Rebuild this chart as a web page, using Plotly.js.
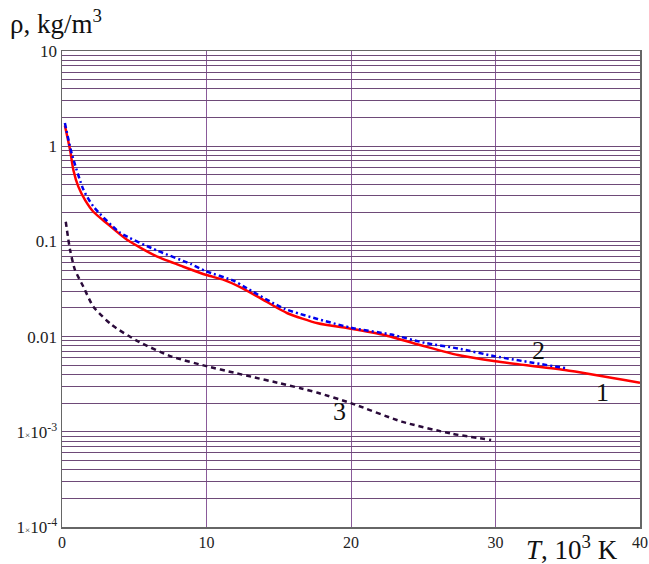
<!DOCTYPE html>
<html>
<head>
<meta charset="utf-8">
<script src="https://cdn.plot.ly/plotly-3.0.1.min.js"></script>
<style>html,body{margin:0;padding:0;background:#fff;}#chart{width:649px;height:564px;}</style>
</head>
<body>
<div id="chart"></div>
<script>
// Curve 1 (red, solid)
const T1 = [0.2, 0.56, 0.79, 1.13, 1.6, 2.17, 3.1, 4.5, 6.6, 8.4, 10.0, 11.2, 12.5, 13.75, 15.6, 17.7, 20, 22.3, 25.1, 27.4, 30, 34.8, 40];
const rho1 = [1.65, 0.91, 0.56, 0.376, 0.272, 0.205, 0.155, 0.104, 0.069, 0.0542, 0.0443, 0.0394, 0.0321, 0.0252, 0.0176, 0.0138, 0.0121, 0.0104, 0.0079, 0.0064, 0.0055, 0.00446, 0.00328];
// Curve 2 (blue, dash-dot)
const T2 = [0.2, 0.67, 1.48, 2.17, 4.0, 6.6, 8.9, 9.9, 11.9, 12.6, 15.4, 20, 22.8, 25.1, 27.4, 30, 34.9];
const rho2 = [1.75, 0.84, 0.35, 0.233, 0.124, 0.08, 0.058, 0.049, 0.0385, 0.0335, 0.0196, 0.0124, 0.0105, 0.0086, 0.0075, 0.0062, 0.00465];
// Curve 3 (dark, dashed)
const T3 = [0.26, 0.56, 0.9, 1.48, 2.17, 3.45, 5.3, 7.6, 10.1, 11.9, 13.1, 15.1, 16.5, 17.7, 20, 23.5, 26.9, 29.7];
const rho3 = [0.161, 0.081, 0.050, 0.0334, 0.0206, 0.01325, 0.00885, 0.00616, 0.00485, 0.00418, 0.00379, 0.00323, 0.00287, 0.00257, 0.0020, 0.00128, 0.00096, 0.00082];

// Curve labels
const curveLabels = ['1', '2', '3'];
const labelT = [37.4, 33.0, 19.2];
const labelRho = [0.00256, 0.0072, 0.00162];

// Axis ticks
const xTicks = [0, 10, 20, 30, 40];
const decades = [-4, -3, -2, -1, 0, 1];
const decadeLabels = ['1<span style="font-size:9px">×</span>10<sup>-4</sup>', '1<span style="font-size:9px">×</span>10<sup>-3</sup>', '0.01', '0.1', '1', '10'];

const yTickVals = [];
const yTickText = [];
decades.forEach((d, i) => {
  for (let m = 1; m <= 9; m++) {
    if (d === 1 && m > 1) break;
    yTickVals.push(m * Math.pow(10, d));
    yTickText.push(m === 1 ? decadeLabels[i] : ' ');
  }
});

const serif = '"Liberation Serif", serif';

const traces = [
  {x: T1, y: rho1, mode: 'lines', line: {color: '#ff0000', width: 2.5, shape: 'spline', smoothing: 0.6}, hoverinfo: 'none'},
  {x: T2, y: rho2, mode: 'lines', line: {color: '#0000ee', width: 2.5, dash: '5px,3px,2px,3px', shape: 'spline', smoothing: 0.6}, hoverinfo: 'none'},
  {x: T3, y: rho3, mode: 'lines', line: {color: '#2a0a3a', width: 2.5, dash: '5px,4px', shape: 'spline', smoothing: 0.6}, hoverinfo: 'none'}
];

const annotations = curveLabels.map((t, i) => ({
  x: labelT[i], y: Math.log10(labelRho[i]), xref: 'x', yref: 'y', text: t, showarrow: false,
  font: {family: serif, size: 26, color: '#111'}
}));
annotations.push({
  xref: 'paper', yref: 'paper', x: -0.093, y: 1.06, xanchor: 'left', yanchor: 'middle',
  text: 'ρ, kg/m<sup>3</sup>', showarrow: false, font: {family: serif, size: 27, color: '#111'}
});
annotations.push({
  xref: 'paper', yref: 'paper', x: 0.966, y: -0.044, xanchor: 'right', yanchor: 'middle',
  text: '<i>T</i>, 10<sup>3</sup> K', showarrow: false, font: {family: serif, size: 27, color: '#111'}
});

const layout = {
  width: 649, height: 564,
  margin: {l: 62, r: 9, t: 51, b: 37},
  paper_bgcolor: '#fff', plot_bgcolor: '#fff',
  showlegend: false,
  font: {family: serif},
  xaxis: {
    range: [0, 40], tickvals: xTicks, ticktext: xTicks.map(String),
    showgrid: true, gridcolor: '#8a5a9a', gridwidth: 1, zeroline: false,
    showline: true, mirror: true, linecolor: '#666', linewidth: 1.5,
    ticks: '', tickfont: {family: serif, size: 16, color: '#222'}
  },
  yaxis: {
    type: 'log', range: [-4, 1], tickvals: yTickVals, ticktext: yTickText,
    showgrid: true, gridcolor: '#6e4a78', gridwidth: 1, zeroline: false,
    showline: true, mirror: true, linecolor: '#666', linewidth: 1.5,
    ticks: '', tickfont: {family: serif, size: 17, color: '#222'}
  },
  annotations: annotations
};

Plotly.newPlot('chart', traces, layout, {staticPlot: true, displayModeBar: false});
</script>
</body>
</html>
